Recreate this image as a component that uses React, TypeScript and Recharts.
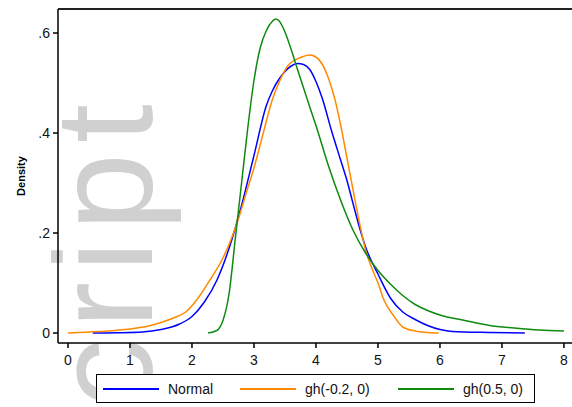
import React from 'react';
import { LineChart, Line, XAxis, YAxis, ReferenceLine, Legend } from 'recharts';

// values
const normalX = [0.4, 0.8, 1.2, 1.5, 1.8, 2.0, 2.2, 2.4, 2.6, 2.8, 3.0, 3.2, 3.3, 3.4, 3.5, 3.6, 3.7, 3.8, 3.9, 4.0, 4.1, 4.25, 4.4, 4.5, 4.6, 4.7, 4.8, 5.0, 5.2, 5.4, 5.6, 5.8, 6.0, 6.2, 6.8, 7.37];
const normalY = [0, 0.0005, 0.002, 0.007, 0.018, 0.033, 0.062, 0.105, 0.17, 0.255, 0.355, 0.455, 0.485, 0.507, 0.523, 0.534, 0.539, 0.537, 0.527, 0.503, 0.47, 0.405, 0.345, 0.305, 0.258, 0.212, 0.172, 0.118, 0.07, 0.042, 0.027, 0.015, 0.007, 0.003, 0.001, 0];

const ghNegX = [0, 0.5, 1.0, 1.3, 1.5, 1.7, 1.9, 2.1, 2.3, 2.5, 2.7, 2.9, 3.0, 3.15, 3.3, 3.4, 3.55, 3.75, 3.9, 4.0, 4.1, 4.2, 4.3, 4.4, 4.5, 4.6, 4.7, 4.8, 4.9, 5.0, 5.1, 5.25, 5.4, 5.6, 5.8, 5.98];
const ghNegY = [0, 0.003, 0.008, 0.014, 0.021, 0.03, 0.042, 0.07, 0.108, 0.15, 0.21, 0.29, 0.33, 0.4, 0.468, 0.5, 0.535, 0.551, 0.556, 0.552, 0.538, 0.51, 0.47, 0.415, 0.35, 0.285, 0.222, 0.166, 0.13, 0.1, 0.065, 0.035, 0.012, 0.004, 0.001, 0];

const ghPosX = [2.26, 2.4, 2.5, 2.6, 2.7, 2.8, 2.9, 3.0, 3.1, 3.2, 3.3, 3.35, 3.4, 3.5, 3.6, 3.7, 3.8, 3.9, 4.0, 4.2, 4.4, 4.6, 4.8, 5.0, 5.2, 5.4, 5.6, 5.8, 6.0, 6.4, 6.8, 7.2, 7.6, 8.0];
const ghPosY = [0, 0.005, 0.025, 0.08, 0.19, 0.3, 0.41, 0.505, 0.57, 0.605, 0.624, 0.628, 0.625, 0.602, 0.567, 0.528, 0.49, 0.452, 0.415, 0.335, 0.265, 0.205, 0.16, 0.125, 0.098, 0.075, 0.057, 0.045, 0.036, 0.025, 0.015, 0.01, 0.006, 0.004];

const xTicks = [0, 1, 2, 3, 4, 5, 6, 7, 8];
const yTicks = [0, 0.2, 0.4, 0.6];
const seriesNames = ['Normal', 'gh(-0.2, 0)', 'gh(0.5, 0)'];
const seriesColors = ['#0000ff', '#ff8a00', '#0f8a0f'];

const toPoints = (xs: number[], ys: number[]) => xs.map((x, i) => ({ x, y: ys[i] }));

const series = [
  toPoints(normalX, normalY),
  toPoints(ghNegX, ghNegY),
  toPoints(ghPosX, ghPosY),
];

const font = '"Liberation Sans", Arial, sans-serif';
const yMax = 0.648;

const fmtY = (v: number) => (v === 0 ? '0' : String(v).replace(/^0/, ''));

const DensityLabel = () => (
  <text
    x={25}
    y={176}
    transform="rotate(-90 25 176)"
    textAnchor="middle"
    fontFamily={font}
    fontSize={11}
    fontWeight="bold"
    fill="#000"
  >
    Density
  </text>
);

const legendItemWidths = [137, 158, 130];

const LegendBox = ({ payload }: any) => (
  <div
    style={{
      boxSizing: 'border-box',
      width: 439,
      height: 29,
      border: '1.5px solid #000',
      background: '#fff',
      display: 'flex',
      alignItems: 'center',
      paddingLeft: 6,
      fontFamily: font,
      fontSize: 14,
      color: '#111',
    }}
  >
    {(payload || []).map((entry: any, i: number) => (
      <div key={i} style={{ display: 'flex', alignItems: 'center', width: legendItemWidths[i] }}>
        <div style={{ width: 56, height: 2, background: entry.color, marginRight: 9 }} />
        <span>{entry.value}</span>
      </div>
    ))}
  </div>
);

const App = () => {
  return (
    <div style={{ position: 'absolute', left: 0, top: 0, width: 572, height: 407, background: '#fff', overflow: 'hidden' }}>
      <svg width={572} height={407} style={{ position: 'absolute', left: 0, top: 0 }}>
        <text
          transform="translate(152 512) rotate(-90)"
          fontFamily={font}
          fontSize={140}
          letterSpacing={10}
          fill="#d0d0d0"
        >
          Script
        </text>
      </svg>
      <div style={{ position: 'absolute', left: 0, top: 0 }}>
        <LineChart width={572} height={407} margin={{ top: 9, right: 0, left: 0, bottom: 34 }}>
          <XAxis
            type="number"
            dataKey="x"
            domain={[-0.161, 8.13]}
            ticks={xTicks}
            allowDataOverflow
            height={30}
            tickSize={5}
            tickMargin={7}
            axisLine={{ stroke: '#000', strokeWidth: 1.5 }}
            tickLine={{ stroke: '#000', strokeWidth: 1.5 }}
            tick={{ fill: '#111', fontSize: 14, fontFamily: font }}
          />
          <YAxis
            type="number"
            dataKey="y"
            domain={[-0.02, yMax]}
            ticks={yTicks}
            allowDataOverflow
            width={58}
            tickSize={5}
            tickMargin={3}
            tickFormatter={fmtY}
            axisLine={{ stroke: '#000', strokeWidth: 1.5 }}
            tickLine={{ stroke: '#000', strokeWidth: 1.5 }}
            tick={{ fill: '#111', fontSize: 14, fontFamily: font }}
            label={<DensityLabel />}
          />
          <ReferenceLine y={yMax} stroke="#222" strokeWidth={2} ifOverflow="extendDomain" />
          {series.map((data, i) => (
            <Line
              key={seriesNames[i]}
              data={data}
              dataKey="y"
              name={seriesNames[i]}
              type="monotone"
              stroke={seriesColors[i]}
              strokeWidth={1.5}
              dot={false}
              activeDot={false}
              isAnimationActive={false}
            />
          ))}
          <Legend
            layout="horizontal"
            verticalAlign="middle"
            align="center"
            content={<LegendBox />}
            wrapperStyle={{ position: 'absolute', left: 96, top: 374, width: 439, height: 29, margin: 0, padding: 0 }}
          />
        </LineChart>
      </div>
    </div>
  );
};

export default App;
